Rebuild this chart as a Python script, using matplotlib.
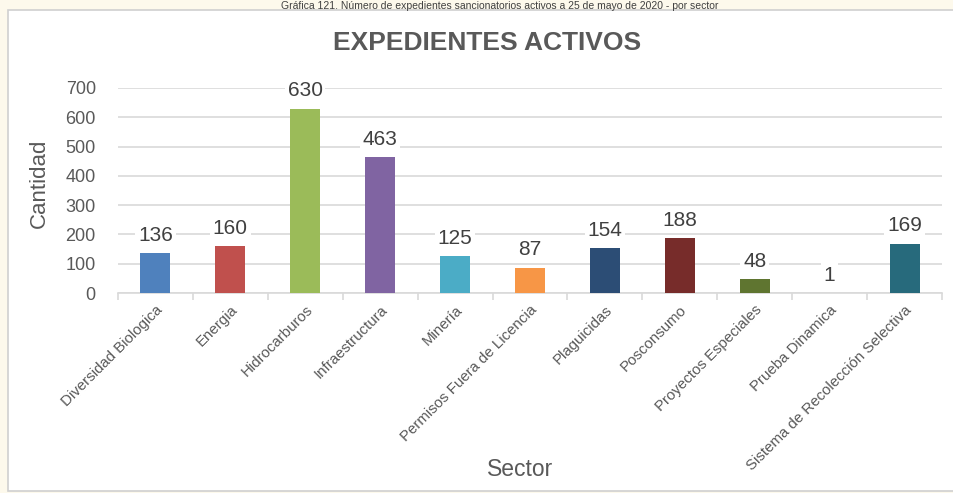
import matplotlib
matplotlib.use("Agg")
import matplotlib.pyplot as plt
from matplotlib.patches import Rectangle

plt.rcParams['font.family'] = ['Liberation Sans', 'DejaVu Sans']

categories = ["Diversidad Biologica", "Energia", "Hidrocarburos", "Infraestructura",
              "Minería", "Permisos Fuera de Licencia", "Plaguicidas", "Posconsumo",
              "Proyectos Especiales", "Prueba Dinamica", "Sistema de Recolección Selectiva"]
values = [136, 160, 630, 463, 125, 87, 154, 188, 48, 1, 169]
colors = ["#4f81bd", "#c0504d", "#9bbb59", "#8064a2", "#4bacc6", "#f79646",
          "#2c4d75", "#772c2a", "#5f7530", "#4d3b62", "#276a7c"]
yticks = [0, 100, 200, 300, 400, 500, 600, 700]
title = "EXPEDIENTES ACTIVOS"
caption = "Gráfica 121. Número de expedientes sancionatorios activos a 25 de mayo de 2020 - por sector"

W, H = 954, 493
fig = plt.figure(figsize=(W / 100, H / 100), dpi=100)
fig.patch.set_facecolor("#fdf9ec")

# chart frame
frame = Rectangle((8 / W, 2 / H), 1.0, 1 - 12 / H, transform=fig.transFigure,
                  facecolor="white", edgecolor="#d0d0d0", linewidth=1.2, zorder=-5)
fig.add_artist(frame)
fig.text(500 / W, 1 - 1 / H, caption, ha="center", va="top", fontsize=7.5, color="#404040")

ax = fig.add_axes([118 / W, 1 - 293 / H, (942 - 118) / W, (293 - 88) / H])
ax.set_zorder(2)
ax.set_facecolor("none")
x = list(range(len(categories)))
ax.bar(x, values, width=0.4, color=colors, zorder=3)
ax.set_xlim(-0.5, len(categories) - 0.5)
ax.set_ylim(0, 700)
ax.set_yticks(yticks)
ax.set_yticklabels([str(v) for v in yticks], fontsize=13, color="#595959")
ax.yaxis.grid(True, color="#d9d9d9", linewidth=1.2, zorder=0)
ax.set_axisbelow(True)
for s in ["top", "right", "left"]:
    ax.spines[s].set_visible(False)
ax.spines["bottom"].set_color("#d9d9d9")
ax.spines["bottom"].set_linewidth(1.2)
ax.tick_params(axis="y", length=0, pad=16)

ax.set_xticks(x)
ax.set_xticklabels(categories, rotation=45, ha="right", rotation_mode="anchor",
                   fontsize=10.8, color="#595959")
ax.tick_params(axis="x", length=0, pad=7)
ax.set_xticks([i - 0.5 for i in range(len(categories) + 1)], minor=True)
ax.tick_params(axis="x", which="minor", length=5, color="#d9d9d9", width=1.2)

for xi, v in zip(x, values):
    ax.text(xi, v + 28, str(v), ha="center", va="bottom", fontsize=15, color="#404040",
            bbox=dict(facecolor="white", edgecolor="none", pad=2), zorder=4)

fig.text(39 / W, 1 - 183 / H, "Cantidad", rotation=90, ha="center", va="center",
         fontsize=16, color="#595959")
fig.text(520 / W, 1 - 470 / H, "Sector", ha="center", va="center", fontsize=16.5, color="#595959")
fig.text(487 / W, 1 - 43 / H, title, ha="center", va="center", fontsize=19,
         fontweight="bold", color="#595959")

fig.savefig("out.png", dpi=100, facecolor=fig.get_facecolor())
